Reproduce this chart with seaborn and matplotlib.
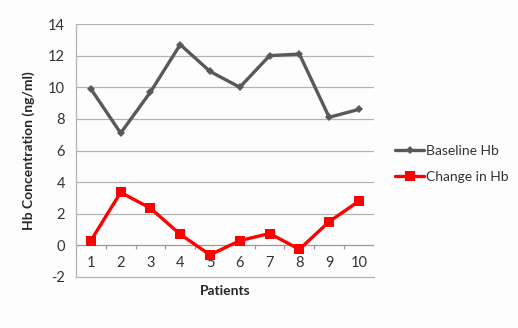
import numpy as np
import pandas as pd
import matplotlib
matplotlib.use("Agg")
import matplotlib.pyplot as plt
import seaborn as sns

# Values
patients = [1, 2, 3, 4, 5, 6, 7, 8, 9, 10]
baseline_hb = [9.9, 7.1, 9.7, 12.7, 11.0, 10.0, 12.0, 12.1, 8.1, 8.6]
change_hb = [0.3, 3.35, 2.35, 0.7, -0.6, 0.3, 0.75, -0.25, 1.5, 2.8]
y_ticks = [-2, 0, 2, 4, 6, 8, 10, 12, 14]

df = pd.DataFrame({"Patient": patients,
                   "Baseline Hb": baseline_hb,
                   "Change in Hb": change_hb})
long = df.melt(id_vars="Patient", var_name="Series", value_name="Hb")

sns.set_theme(style="white")
plt.rcParams["font.family"] = ["Lato", "DejaVu Sans"]

fig = plt.figure(figsize=(5.18, 3.28), dpi=100, facecolor="#fdfdfd")
ax = fig.add_axes([0.1467, 0.1555, 0.575, 0.7713])
ax.set_facecolor("#fdfdfd")

grid_col = "#b3b3b3"
for y in y_ticks[2:]:
    ax.axhline(y, color=grid_col, lw=0.9, zorder=0)
ax.axhline(0, color="#9a9a9a", lw=0.9, zorder=1)
# category separators on the horizontal axis
seps = np.arange(len(patients) + 1) + 0.5
ax.vlines(seps, -0.22, 0, color="#9a9a9a", lw=0.9, zorder=1)

sns.lineplot(data=long, x="Patient", y="Hb", hue="Series", style="Series",
             palette={"Baseline Hb": "#595959", "Change in Hb": "#ff0000"},
             markers={"Baseline Hb": "D", "Change in Hb": "s"},
             dashes=False, linewidth=2.4, markersize=6.5,
             markeredgewidth=0, ax=ax, zorder=3)
# smaller diamonds for baseline
for line in ax.get_lines():
    if line.get_marker() == "D":
        line.set_markersize(4.5)

ax.set_xlim(0.5, 10.5)
ax.set_ylim(-2, 14)
ax.set_yticks(y_ticks)
ax.set_yticklabels([str(v) for v in y_ticks], fontsize=10.5, color="#333333")
ax.set_xticks(patients)
ax.set_xticklabels([str(p) for p in patients], fontsize=10.5, color="#333333")
ax.tick_params(axis="x", length=0, pad=-15)
ax.tick_params(axis="y", length=0, pad=8)

for s in ["top", "right"]:
    ax.spines[s].set_visible(False)
ax.spines["left"].set_color(grid_col)
ax.spines["bottom"].set_color(grid_col)
ax.spines["left"].set_linewidth(0.9)
ax.spines["bottom"].set_linewidth(0.9)

ax.set_xlabel("Patients", fontsize=10, fontweight="bold", labelpad=6)
ax.set_ylabel("Hb Concentration (ng/ml)", fontsize=10, fontweight="bold",
              labelpad=9)

leg = ax.legend(title=None, loc="center left", bbox_to_anchor=(1.03, 0.447),
                frameon=False, fontsize=10, handlelength=2.1,
                labelspacing=1.0, handletextpad=0.1)
for t in leg.get_texts():
    t.set_color("#333333")

fig.savefig("out.png", dpi=100, facecolor=fig.get_facecolor())
